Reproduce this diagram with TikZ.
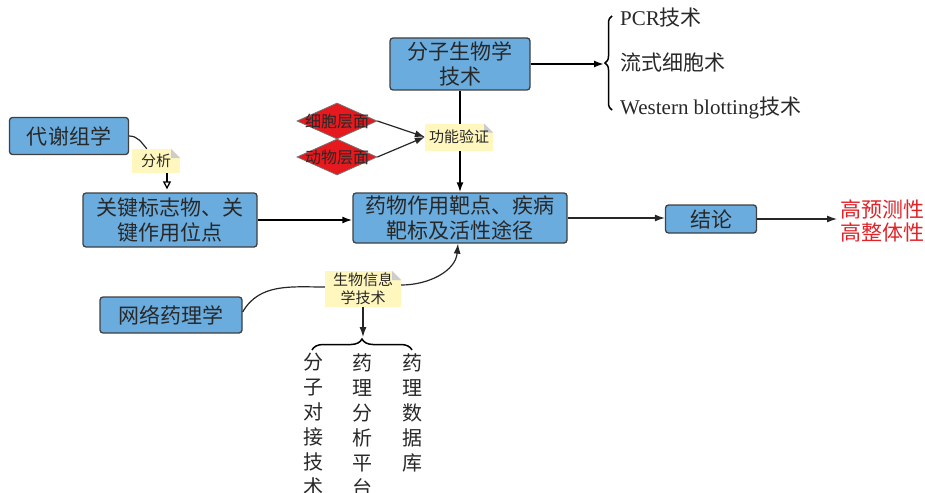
\documentclass[tikz,border=0pt]{standalone}
\usepackage{fontspec}
\setmainfont{Noto Sans CJK SC}
\newfontfamily\latinf{Liberation Serif}
\usetikzlibrary{shapes.geometric,arrows.meta,decorations.pathreplacing}
\definecolor{boxblue}{RGB}{106,172,222}
\definecolor{noteyel}{RGB}{255,247,190}
\definecolor{dred}{RGB}{230,25,30}
\definecolor{redtxt}{RGB}{225,35,40}
\definecolor{txt}{RGB}{40,40,40}
\begin{document}
\begin{tikzpicture}[x=1pt,y=-1pt,
  box/.style={draw=black!75, line width=1.3pt, fill=boxblue, rounded corners=3pt, align=center, inner sep=0pt, font=\fontsize{21}{25}\selectfont, text=txt},
  note/.style={fill=noteyel, align=center, inner sep=0pt, font=\fontsize{15}{18}\selectfont, text=txt,
    path picture={\fill[white] (path picture bounding box.north east) -- ++(-9pt,0) -- ++(9pt,-9pt) -- cycle;
      \fill[black!20] (path picture bounding box.north east) ++(-9pt,0) -- ++(9pt,-9pt) -- ++(-9pt,0) -- cycle;}},
  dia/.style={diamond, draw=black!55, line width=0.8pt, fill=dred, minimum width=80pt, minimum height=36pt, inner sep=0pt},
  dtext/.style={font=\fontsize{16}{16}\selectfont, text=txt},
  lab/.style={anchor=west, inner sep=0pt, font=\fontsize{21}{24}\selectfont, text=txt},
  col/.style={anchor=north, align=center, inner sep=0pt, font=\fontsize{20}{25}\selectfont, text=txt},
  thickln/.style={line width=1.8pt, black},
  thinln/.style={line width=1.2pt, black!85},
  tip/.style={-{Latex[length=10pt,width=7pt]}},
  bracestyle/.style={decorate, line width=1.5pt, black}
]
\useasboundingbox (0,0) rectangle (925,492);

% boxes
\node[box, minimum width=140pt, minimum height=52pt] (mol) at (460,64) {分子生物学\\技术};
\node[box, minimum width=119pt, minimum height=37pt] (met) at (69,136) {代谢组学};
\node[box, minimum width=174pt, minimum height=54pt] (key) at (170,220) {关键标志物、关\\键作用位点};
\node[box, minimum width=214pt, minimum height=50pt] (tgt) at (460,218) {药物作用靶点、疾病\\靶标及活性途径};
\node[box, minimum width=91pt, minimum height=28pt] (con) at (711,219) {结论};
\node[box, minimum width=142pt, minimum height=36pt] (net) at (171,315) {网络药理学};
\node[anchor=west, align=left, inner sep=0pt, font=\fontsize{21}{23}\selectfont, text=redtxt] (res) at (840,221) {高预测性\\高整体性};

% diamonds
\node[dia, label={[dtext]center:细胞层面}] (d1) at (337,121) {};
\node[dia, label={[dtext]center:动物层面}] (d2) at (337,157) {};

% vertical line behind note
\draw[thickln, tip] (mol.south) -- (tgt.north);

% notes
\node[note, minimum width=68pt, minimum height=27pt] (fv) at (459,137) {功能验证};
\node[note, minimum width=48pt, minimum height=24pt] (fx) at (156,161) {分析};
\node[note, minimum width=76pt, minimum height=36pt] (bio) at (363,289) {生物信息\\学技术};

% diamond arrows
\coordinate (fvin) at (fv.west);
\draw[thinln, tip] (d1.east) -- (fvin);
\draw[thinln, tip] (d2.east) -- (fvin);

% molecular techniques brace
\coordinate (brtip) at (604,64);
\draw[thickln, tip] (mol.east) -- (brtip);
\draw[bracestyle, decoration={brace, amplitude=7pt}] (612,110) -- (612,16);
\node[lab] (pcr) at (620,18) {{\latinf PCR}技术};
\node[lab] (flow) at (620,63) {流式细胞术};
\node[lab] (wb) at (620,108) {{\latinf Western blotting}技术};

% metabolomics
\draw[thinln] (met.east) to[out=0,in=130] ([xshift=15pt]fx.north west);
\draw[line width=1.3pt, -{Triangle[open,length=8pt,width=8pt]}] ([xshift=11pt]fx.south) -- ([xshift=-3pt,yshift=3pt]key.north);

% main flow
\draw[thickln, tip] (key.east) -- (key.east -| tgt.west);
\draw[thinln, tip] (tgt.east) -- (tgt.east -| con.west);
\draw[thinln, tip] (con.east) -- ([xshift=-3pt]res.west |- con.east);

% network pharmacology
\draw[thinln] ([yshift=3pt]net.east) to[out=60,in=180] ([yshift=2pt]bio.west);
\draw[thinln, tip] ([yshift=4pt]bio.east) to[out=0,in=-95] ([xshift=-2pt]tgt.south);
\coordinate (bt) at (363,337);
\draw[thinln, tip] (bio.south) -- (bt);
\draw[bracestyle, decoration={brace, amplitude=11pt}] (312,350) -- (412,350);

\node[col] (c1) at (313,353) {分\\子\\对\\接\\技\\术};
\node[col] (c2) at (362,353) {药\\理\\分\\析\\平\\台};
\node[col] (c3) at (412,353) {药\\理\\数\\据\\库};
\end{tikzpicture}
\end{document}
